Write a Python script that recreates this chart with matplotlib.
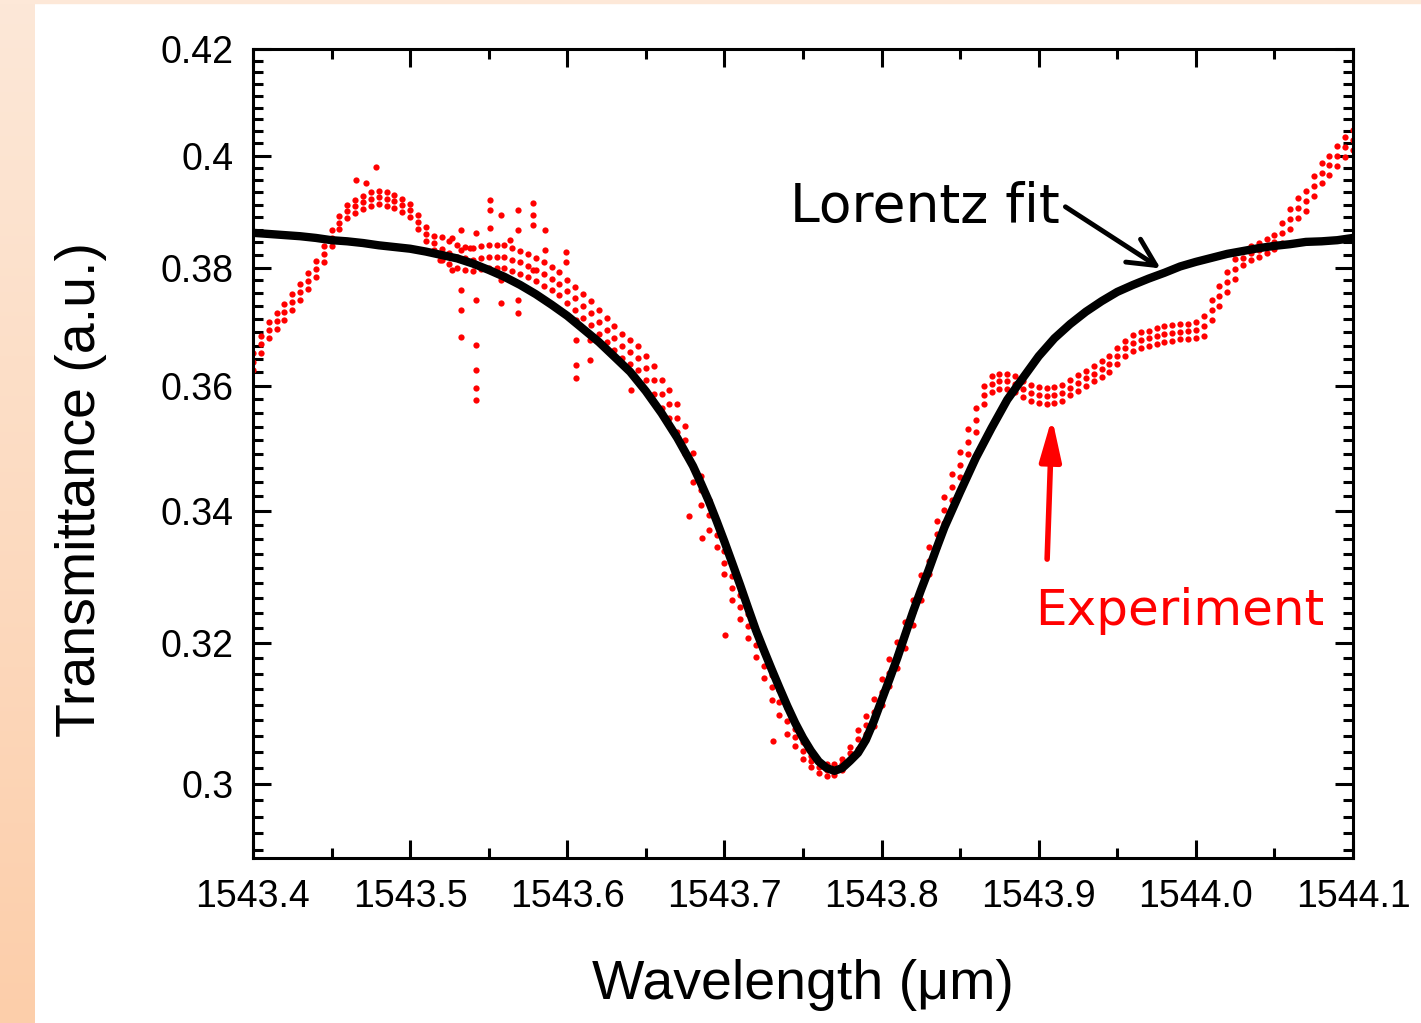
import matplotlib
matplotlib.use('Agg')
import matplotlib.pyplot as plt
import numpy as np
from matplotlib.ticker import MultipleLocator, NullFormatter, FormatStrFormatter
from matplotlib.colors import LinearSegmentedColormap
from matplotlib.patches import Rectangle

plt.rcParams['font.family'] = ['Liberation Sans', 'DejaVu Sans']

# experiment: wavelength grid (nm, every 0.005) and the red dot band
exp_x = np.linspace(1543.4, 1544.1, 141)
exp_mid = [0.3640, 0.3669, 0.3693, 0.3708, 0.3724, 0.3741, 0.3758, 0.3777, 0.3798, 0.3824,
           0.3852, 0.3879, 0.3899, 0.3908, 0.3915, 0.3921, 0.3924, 0.3921, 0.3917, 0.3910,
           0.3901, 0.3880, 0.3859, 0.3843, 0.3833, 0.3826, 0.3819, 0.3816, 0.3814, 0.3817,
           0.3819, 0.3819, 0.3819, 0.3814, 0.3809, 0.3803, 0.3796, 0.3789, 0.3781, 0.3772,
           0.3759, 0.3747, 0.3734, 0.3722, 0.3707, 0.3693, 0.3679, 0.3666, 0.3656, 0.3646,
           0.3629, 0.3610, 0.3587, 0.3570, 0.3547, 0.3512, 0.3467, 0.3432, 0.3393, 0.3362,
           0.3320, 0.3282, 0.3253, 0.3225, 0.3197, 0.3167, 0.3136, 0.3114, 0.3088, 0.3065,
           0.3046, 0.3031, 0.3023, 0.3019, 0.3020, 0.3027, 0.3043, 0.3062, 0.3082, 0.3100,
           0.3129, 0.3157, 0.3183, 0.3212, 0.3245, 0.3282, 0.3323, 0.3364, 0.3401, 0.3437,
           0.3472, 0.3509, 0.3544, 0.3585, 0.3603, 0.3607, 0.3607, 0.3603, 0.3595, 0.3588,
           0.3585, 0.3583, 0.3585, 0.3588, 0.3597, 0.3605, 0.3612, 0.3620, 0.3628, 0.3636,
           0.3649, 0.3662, 0.3671, 0.3676, 0.3679, 0.3683, 0.3686, 0.3688, 0.3690, 0.3691,
           0.3693, 0.3700, 0.3727, 0.3751, 0.3775, 0.3798, 0.3817, 0.3826, 0.3831, 0.3838,
           0.3845, 0.3861, 0.3886, 0.3905, 0.3917, 0.3945, 0.3968, 0.3982, 0.3999, 0.4016,
           0.4029]
exp_hi = [0.3654, 0.3683, 0.3707, 0.3722, 0.3738, 0.3755, 0.3772, 0.3791, 0.3812, 0.3838,
          0.3866, 0.3891, 0.3911, 0.3920, 0.3927, 0.3933, 0.3936, 0.3933, 0.3929, 0.3922,
          0.3913, 0.3892, 0.3871, 0.3855, 0.3853, 0.3846, 0.3839, 0.3836, 0.3834, 0.3837,
          0.3839, 0.3839, 0.3839, 0.3834, 0.3829, 0.3823, 0.3816, 0.3809, 0.3801, 0.3792,
          0.3779, 0.3767, 0.3754, 0.3742, 0.3727, 0.3713, 0.3699, 0.3686, 0.3676, 0.3666,
          0.3649, 0.3633, 0.3610, 0.3593, 0.3570, 0.3535, 0.3490, 0.3455, 0.3416, 0.3380,
          0.3338, 0.3300, 0.3271, 0.3243, 0.3215, 0.3185, 0.3154, 0.3132, 0.3106, 0.3077,
          0.3058, 0.3039, 0.3031, 0.3027, 0.3028, 0.3035, 0.3051, 0.3075, 0.3095, 0.3119,
          0.3148, 0.3176, 0.3202, 0.3231, 0.3264, 0.3301, 0.3343, 0.3384, 0.3421, 0.3457,
          0.3492, 0.3529, 0.3564, 0.3600, 0.3616, 0.3620, 0.3620, 0.3616, 0.3608, 0.3601,
          0.3598, 0.3596, 0.3598, 0.3601, 0.3610, 0.3618, 0.3625, 0.3633, 0.3641, 0.3649,
          0.3662, 0.3675, 0.3684, 0.3689, 0.3692, 0.3696, 0.3699, 0.3701, 0.3703, 0.3704,
          0.3706, 0.3717, 0.3744, 0.3768, 0.3792, 0.3815, 0.3829, 0.3838, 0.3843, 0.3850,
          0.3857, 0.3879, 0.3904, 0.3923, 0.3935, 0.3963, 0.3986, 0.4000, 0.4017, 0.4034,
          0.4047]
exp_lo = [0.3626, 0.3655, 0.3679, 0.3694, 0.3710, 0.3727, 0.3744, 0.3763, 0.3784, 0.3810,
          0.3838, 0.3867, 0.3887, 0.3896, 0.3903, 0.3909, 0.3912, 0.3909, 0.3905, 0.3898,
          0.3889, 0.3868, 0.3847, 0.3831, 0.3813, 0.3806, 0.3799, 0.3796, 0.3794, 0.3797,
          0.3799, 0.3799, 0.3799, 0.3794, 0.3789, 0.3783, 0.3776, 0.3769, 0.3761, 0.3752,
          0.3739, 0.3727, 0.3714, 0.3702, 0.3687, 0.3673, 0.3659, 0.3646, 0.3636, 0.3626,
          0.3609, 0.3587, 0.3564, 0.3547, 0.3524, 0.3489, 0.3444, 0.3409, 0.3370, 0.3344,
          0.3302, 0.3264, 0.3235, 0.3207, 0.3179, 0.3149, 0.3118, 0.3096, 0.3070, 0.3053,
          0.3034, 0.3023, 0.3015, 0.3011, 0.3012, 0.3019, 0.3035, 0.3049, 0.3069, 0.3081,
          0.3110, 0.3138, 0.3164, 0.3193, 0.3226, 0.3263, 0.3303, 0.3344, 0.3381, 0.3417,
          0.3452, 0.3489, 0.3524, 0.3570, 0.3590, 0.3594, 0.3594, 0.3590, 0.3582, 0.3575,
          0.3572, 0.3570, 0.3572, 0.3575, 0.3584, 0.3592, 0.3599, 0.3607, 0.3615, 0.3623,
          0.3636, 0.3649, 0.3658, 0.3663, 0.3666, 0.3670, 0.3673, 0.3675, 0.3677, 0.3678,
          0.3680, 0.3683, 0.3710, 0.3734, 0.3758, 0.3781, 0.3805, 0.3814, 0.3819, 0.3826,
          0.3833, 0.3843, 0.3868, 0.3887, 0.3899, 0.3927, 0.3950, 0.3964, 0.3981, 0.3998,
          0.4011]

# stray points outside the band (noisy part near 1543.5-1543.6)
noise_x = [1543.4655, 1543.4719, 1543.4783, 1543.5190, 1543.5266, 1543.5266, 1543.5324, 1543.5324,
           1543.5324, 1543.5324, 1543.5324, 1543.5381, 1543.5419, 1543.5419, 1543.5419, 1543.5419,
           1543.5419, 1543.5419, 1543.5508, 1543.5508, 1543.5508, 1543.5578, 1543.5578, 1543.5578,
           1543.5635, 1543.5686, 1543.5686, 1543.5686, 1543.5686, 1543.5782, 1543.5782, 1543.5782,
           1543.5782, 1543.5858, 1543.5858, 1543.5992, 1543.5992, 1543.6055, 1543.6055, 1543.6055,
           1543.6055, 1543.6145, 1543.6145, 1543.6405, 1543.6777, 1543.6855, 1543.7004, 1543.7311]
noise_y = [0.3956, 0.3950, 0.3979, 0.3814, 0.3852, 0.3796, 0.3866, 0.3831,
           0.3761, 0.3727, 0.3681, 0.3834, 0.3861, 0.3744, 0.3668, 0.3626,
           0.3597, 0.3577, 0.3919, 0.3901, 0.3870, 0.3892, 0.3779, 0.3739,
           0.3848, 0.3901, 0.3866, 0.3744, 0.3722, 0.3914, 0.3892, 0.3875,
           0.3796, 0.3866, 0.3831, 0.3828, 0.3810, 0.3710, 0.3676, 0.3634,
           0.3613, 0.3676, 0.3643, 0.3593, 0.3391, 0.3358, 0.3212, 0.3059]

# Lorentz fit: every 0.01 nm, every 0.005 nm through the dip
fit_x = np.concatenate([np.linspace(1543.40, 1543.68, 29),
                        np.linspace(1543.685, 1543.835, 31),
                        np.linspace(1543.84, 1544.10, 27)])
fit_y = [0.3861, 0.3859, 0.3857, 0.3855, 0.3852, 0.3848, 0.3846, 0.3843, 0.3839, 0.3836,
         0.3833, 0.3828, 0.3822, 0.3816, 0.3807, 0.3796, 0.3784, 0.3770, 0.3754, 0.3736,
         0.3717, 0.3695, 0.3673, 0.3648, 0.3623, 0.3591, 0.3555, 0.3515, 0.3470,
         0.3443, 0.3415, 0.3384, 0.3352, 0.3319, 0.3286, 0.3252, 0.3219, 0.3190, 0.3162,
         0.3135, 0.3109, 0.3085, 0.3064, 0.3046, 0.3031, 0.3022, 0.3018, 0.3022, 0.3032,
         0.3043, 0.3061, 0.3087, 0.3117, 0.3147, 0.3178, 0.3212, 0.3246, 0.3278, 0.3309,
         0.3342,
         0.3374, 0.3429, 0.3483, 0.3531, 0.3577, 0.3613, 0.3649, 0.3679, 0.3703, 0.3724,
         0.3742, 0.3758, 0.3770, 0.3781, 0.3791, 0.3802, 0.3810, 0.3817, 0.3824, 0.3829,
         0.3834, 0.3838, 0.3841, 0.3845, 0.3846, 0.3848, 0.3852]

y_ticks = [0.30, 0.32, 0.34, 0.36, 0.38, 0.40, 0.42]
y_tick_labels = ['0.3', '0.32', '0.34', '0.36', '0.38', '0.4', '0.42']

fig = plt.figure(figsize=(14.21, 10.23), dpi=100)
fig.patch.set_facecolor('white')

# peach slide strip on the left
bg = fig.add_axes([0, 0, 35 / 1421, 1])
bg.imshow(np.linspace(0, 1, 256).reshape(-1, 1), aspect='auto',
          cmap=LinearSegmentedColormap.from_list('peach', ['#fde8d8', '#fcceaa']))
bg.axis('off')
fig.patches.append(Rectangle((0, 1 - 3 / 1023), 1, 3 / 1023, transform=fig.transFigure,
                             color='#fde8d8', zorder=0))

ax = fig.add_axes([253 / 1421, 1 - 858 / 1023, 1100 / 1421, 809 / 1023])
ax.set_yscale('log')

for yy in (exp_lo, exp_mid, exp_hi):
    ax.plot(exp_x, yy, 'o', color='red', ms=4.5, mew=0, zorder=2)
ax.plot(noise_x, noise_y, 'o', color='red', ms=4.5, mew=0, zorder=2)
ax.plot(fit_x, fit_y, color='black', lw=6, zorder=3)

ax.set_xlim(1543.4, 1544.1)
ax.set_ylim(0.29, 0.42)

ax.xaxis.set_major_locator(MultipleLocator(0.1))
ax.xaxis.set_minor_locator(MultipleLocator(0.05))
ax.xaxis.set_major_formatter(FormatStrFormatter('%.1f'))

ax.set_yticks(y_ticks, y_tick_labels)
minor_y = []
for t in [0.28] + y_ticks:
    for j in range(1, 9):
        minor_y.append(t + 0.02 * j / 9)
ax.set_yticks([m for m in minor_y if 0.29 < m < 0.42], minor=True)
ax.yaxis.set_minor_formatter(NullFormatter())

ax.tick_params(which='both', direction='in', top=True, right=True, width=2.2, color='black')
ax.tick_params(which='major', length=13, labelsize=27)
ax.tick_params(which='minor', length=7)
ax.tick_params(axis='x', pad=15)
ax.tick_params(axis='y', pad=14)
for s in ax.spines.values():
    s.set_linewidth(2.2)

ax.set_xlabel('Wavelength (μm)', fontsize=40)
ax.set_ylabel('Transmittance (a.u.)', fontsize=40)
ax.xaxis.set_label_coords(0.5, -0.125)
ax.yaxis.set_label_coords(-0.133, 0.455)

ax.text(1543.7417, 0.3880, 'Lorentz fit', fontsize=38.5, family='DejaVu Sans',
        ha='left', va='baseline', color='black')
ax.annotate('', xy=(1543.979, 0.3796), xytext=(1543.9155, 0.3910),
            arrowprops=dict(arrowstyle='->,head_length=0.7,head_width=0.35',
                            color='black', lw=3.5, mutation_scale=28))

ax.text(1543.8977, 0.3227, 'Experiment', fontsize=36, family='DejaVu Sans',
        ha='left', va='baseline', color='red')
ax.annotate('', xy=(1543.9085, 0.3552), xytext=(1543.9053, 0.3321),
            arrowprops=dict(arrowstyle='-|>,head_length=0.9,head_width=0.23',
                            color='red', lw=4, mutation_scale=28))

fig.savefig('out.png', dpi=100)
